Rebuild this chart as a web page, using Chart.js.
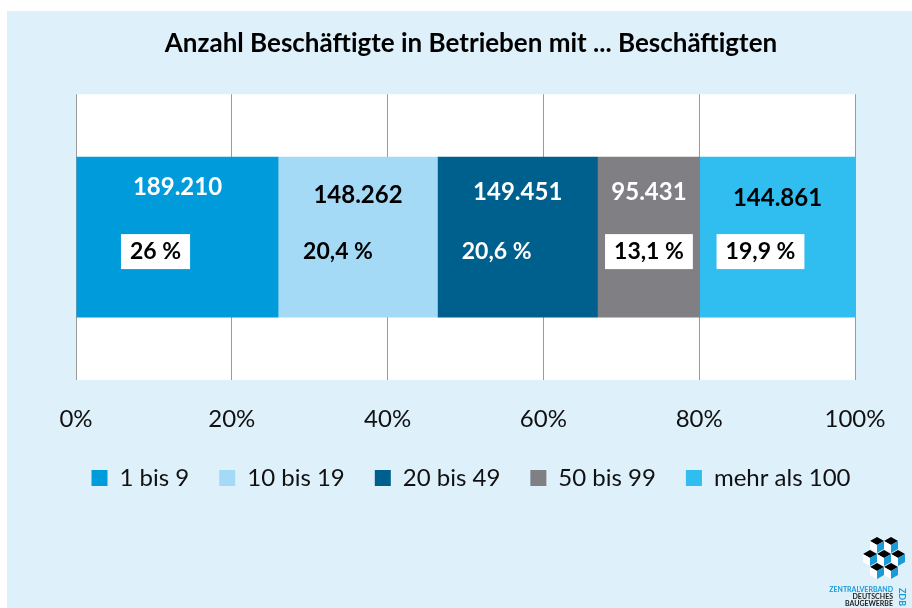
<!DOCTYPE html>
<html lang="de">
<head>
<meta charset="utf-8">
<title>Anzahl Beschäftigte in Betrieben</title>
<script src="https://cdn.jsdelivr.net/npm/chart.js@4/dist/chart.umd.min.js"></script>
<style>
  html, body { margin: 0; padding: 0; background: #fff; }
  #wrap { width: 912px; height: 608px; position: relative; }
</style>
</head>
<body>
<div id="wrap"><canvas id="chart" width="912" height="608"></canvas></div>
<script>
// ---------- DATA ----------
const categories = ["Betriebe"];
const seriesLabels = ["1 bis 9", "10 bis 19", "20 bis 49", "50 bis 99", "mehr als 100"];
const employees = [189210, 148262, 149451, 95431, 144861];
const shares = [26, 20.4, 20.6, 13.1, 19.9];
const xTicks = [0, 20, 40, 60, 80, 100];

// ---------- STYLE ----------
const colors = ["#009bdb", "#a4daf5", "#00608d", "#807f84", "#30bdef"];
const valueColors = ["#fff", "#000", "#fff", "#fff", "#000"];
const shareColors = ["#000", "#000", "#fff", "#000", "#000"];
const shareBoxed = [true, false, false, true, true];
const valueDy = [-50, -42, -45, -45, -39];
const shareDx = [-22, -20, -21, 0, -17];
const bg = "#def0fa";
const FONT = "Lato, 'Open Sans', sans-serif";

const fmtNum = v => String(v).replace(/\B(?=(\d{3})+(?!\d))/g, ".");
const fmtPct = v => String(v).replace(".", ",") + " %";

// background + white plot area
const backdrop = {
  id: "backdrop",
  beforeDraw(chart) {
    const { ctx, chartArea: a } = chart;
    ctx.save();
    ctx.fillStyle = "#fff";
    ctx.fillRect(0, 0, chart.width, chart.height);
    ctx.fillStyle = bg;
    ctx.fillRect(7, 11, chart.width - 7, chart.height - 11);
    ctx.fillStyle = "#fff";
    ctx.fillRect(a.left, a.top, a.right - a.left, a.bottom - a.top);
    ctx.restore();
  }
};

// labels inside the segments
const segLabels = {
  id: "segLabels",
  afterDatasetsDraw(chart) {
    const ctx = chart.ctx;
    ctx.save();
    ctx.textAlign = "center";
    ctx.textBaseline = "middle";
    chart.data.datasets.forEach((ds, i) => {
      const el = chart.getDatasetMeta(i).data[0];
      const cx = (el.x + el.base) / 2;
      const cy = el.y;
      ctx.font = "bold 24px " + FONT;
      ctx.fillStyle = valueColors[i];
      ctx.fillText(fmtNum(employees[i]), cx, cy + valueDy[i]);

      ctx.font = "bold 23px " + FONT;
      const txt = fmtPct(shares[i]);
      const px = cx + shareDx[i];
      const py = cy + 14;
      if (shareBoxed[i]) {
        const w = ctx.measureText(txt).width + 18;
        ctx.fillStyle = "#fff";
        ctx.fillRect(px - w / 2, py - 17, w, 35);
      }
      ctx.fillStyle = shareColors[i];
      ctx.fillText(txt, px, py);
    });
    ctx.restore();
  }
};

// ZDB logo bottom right
function cube(ctx, cx, cy) {
  const w = 7, h = 4;
  const face = (pts, c) => {
    ctx.beginPath();
    ctx.moveTo(pts[0][0], pts[0][1]);
    pts.slice(1).forEach(p => ctx.lineTo(p[0], p[1]));
    ctx.closePath();
    ctx.fillStyle = c;
    ctx.fill();
  };
  face([[cx, cy - 2 * h], [cx + w, cy - h], [cx, cy], [cx - w, cy - h]], "#000");
  face([[cx - w, cy - h], [cx, cy], [cx, cy + 2 * h], [cx - w, cy + h]], "#fff");
  face([[cx, cy], [cx + w, cy - h], [cx + w, cy + h], [cx, cy + 2 * h]], "#1a9ad6");
}
const logo = {
  id: "logo",
  afterDraw(chart) {
    const ctx = chart.ctx;
    ctx.save();
    [[877, 545], [891, 545], [870, 558], [884, 558], [898, 558], [877, 571], [891, 571]]
      .forEach(p => cube(ctx, p[0], p[1]));
    ctx.textAlign = "right";
    ctx.textBaseline = "middle";
    ctx.font = "bold 7px " + FONT;
    ctx.fillStyle = "#1a9ad6";
    ctx.fillText("ZENTRALVERBAND", 893, 590);
    ctx.fillStyle = "#222";
    ctx.fillText("DEUTSCHES", 893, 597);
    ctx.fillText("BAUGEWERBE", 893, 604);
    ctx.translate(902, 597);
    ctx.rotate(Math.PI / 2);
    ctx.textAlign = "center";
    ctx.fillStyle = "#1a9ad6";
    ctx.font = "bold 9px " + FONT;
    ctx.fillText("ZDB", 0, 0);
    ctx.restore();
  }
};

// invisible side scales only reserve room, so legend + title can use the full width
const spacer = width => ({
  display: true,
  grid: { display: false },
  ticks: { display: false },
  border: { display: false },
  afterFit: s => { s.width = width; }
});

new Chart(document.getElementById("chart"), {
  type: "bar",
  data: {
    labels: categories,
    datasets: seriesLabels.map((lab, i) => ({
      label: lab,
      data: [shares[i]],
      backgroundColor: colors[i],
      borderWidth: 0,
      categoryPercentage: 1,
      barPercentage: 0.563
    }))
  },
  options: {
    indexAxis: "y",
    responsive: false,
    animation: false,
    layout: { padding: { left: 40, right: 10, top: 28, bottom: 108 } },
    scales: {
      x: {
        stacked: true,
        min: 0,
        max: 100,
        afterBuildTicks: s => { s.ticks = xTicks.map(v => ({ value: v })); },
        afterFit: s => { s.height = 56; },
        grid: { color: "#9a9a9a", lineWidth: 1, drawTicks: false },
        border: { display: false },
        ticks: {
          padding: 25,
          color: "#111",
          font: { family: FONT, size: 24 },
          callback: v => v + "%"
        }
      },
      y: Object.assign({ stacked: true }, spacer(36)),
      yRight: Object.assign({ type: "category", axis: "y", position: "right" }, spacer(47))
    },
    plugins: {
      title: {
        display: true,
        text: "Anzahl Beschäftigte in Betrieben mit ... Beschäftigten",
        color: "#000",
        font: { family: FONT, size: 26, weight: "bold" },
        padding: { top: 0, bottom: 35 }
      },
      legend: {
        position: "bottom",
        labels: {
          boxWidth: 16,
          boxHeight: 16,
          padding: 30,
          color: "#111",
          font: { family: FONT, size: 24 }
        }
      },
      tooltip: { enabled: false }
    }
  },
  plugins: [backdrop, segLabels, logo]
});
</script>
</body>
</html>
